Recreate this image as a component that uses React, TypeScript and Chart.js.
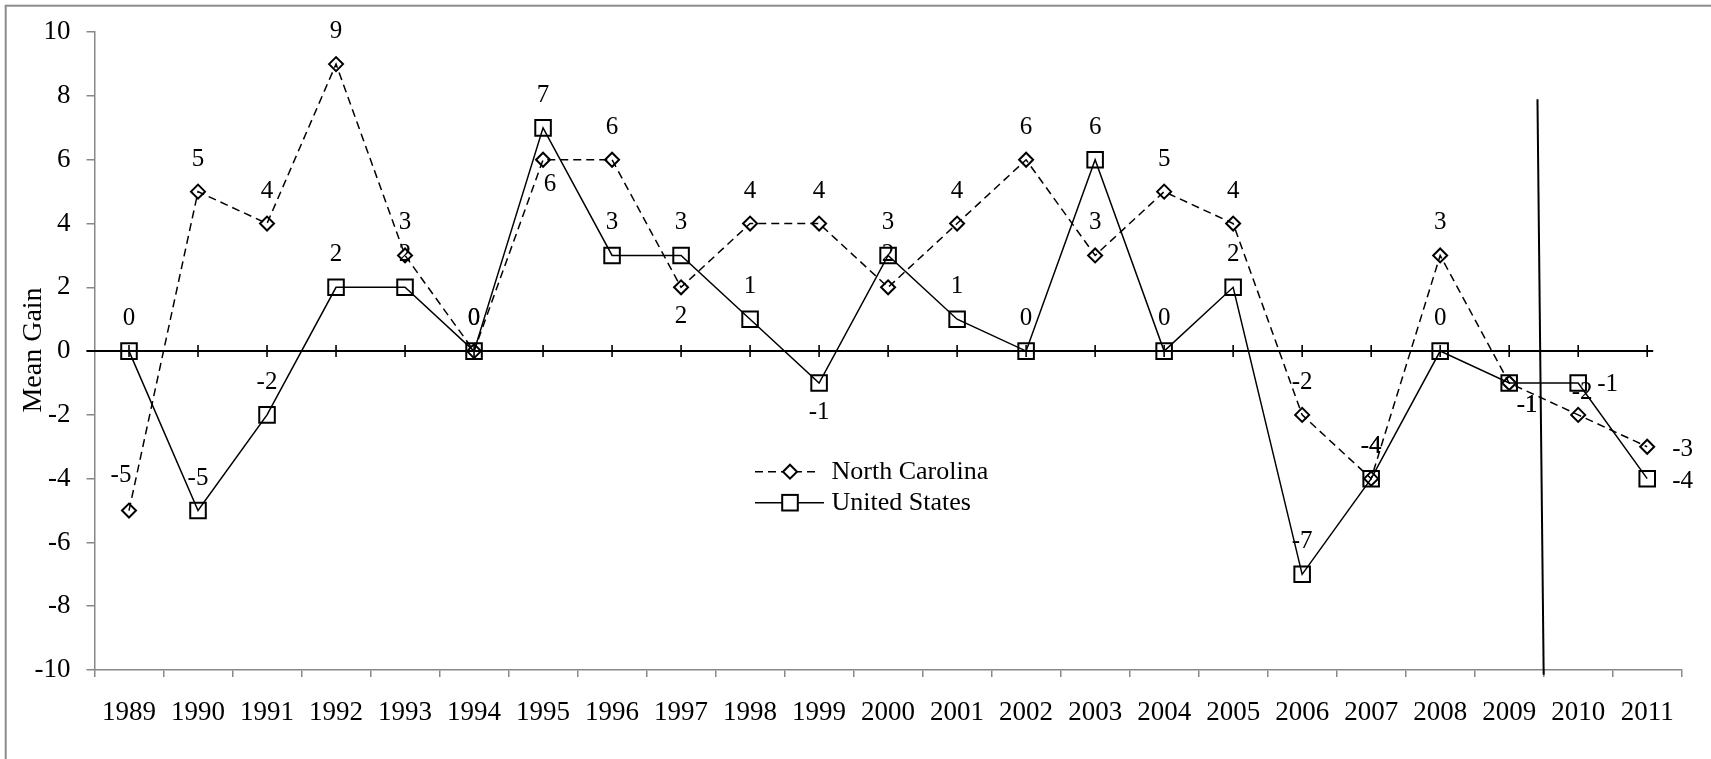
import React, { useEffect, useRef } from 'react';
import { Chart, registerables } from 'chart.js';

Chart.register(...registerables);

// ---------- data ----------
const years = ['1989', '1990', '1991', '1992', '1993', '1994', '1995', '1996', '1997', '1998', '1999', '2000',
  '2001', '2002', '2003', '2004', '2005', '2006', '2007', '2008', '2009', '2010', '2011'];
const northCarolina = [-5, 5, 4, 9, 3, 0, 6, 6, 2, 4, 4, 2, 4, 6, 3, 5, 4, -2, -4, 3, -1, -2, -3];
const unitedStates = [0, -5, -2, 2, 2, 0, 7, 3, 3, 1, -1, 3, 1, 0, 6, 0, 2, -7, -4, 0, -1, -1, -4];
const yTickValues = [-10, -8, -6, -4, -2, 0, 2, 4, 6, 8, 10];
const seriesNames = ['North Carolina', 'United States'];
const yAxisTitle = 'Mean Gain';

// label placement codes (layout only)
const ncLabelPlacement = ['al', 'a', 'a', 'a', 'a', 'a', 'bR', 'a', 'b', 'a', 'a', 'a', 'a', 'a', 'a', 'a', 'a', 'a', 'a', 'a', 'br', 'a2', 'r2'];
const usLabelPlacement = ['a', 'a', 'a', 'a', 'a', 'a', 'a', 'a', 'a', 'a', 'b', 'a', 'a', 'a', 'a', 'a', 'a', 'a', 'a', 'a', 'br', 'r', 'r2'];

// separator line (category index / value coordinates)
const separatorTop = { index: 20.41, value: 7.9 };
const separatorBottom = { index: 20.5, value: -10.15 };

const FONT = '"Liberation Serif", "Times New Roman", serif';
const AXIS_GRAY = '#888888';

const offsets: Record<string, { dx: number; dy: number; align: CanvasTextAlign }> = {
  a: { dx: 0, dy: -32.5, align: 'center' },
  al: { dx: -8, dy: -35, align: 'center' },
  a2: { dx: 4, dy: -22, align: 'center' },
  b: { dx: 0, dy: 29, align: 'center' },
  bR: { dx: 7, dy: 25, align: 'center' },
  br: { dx: 18, dy: 22, align: 'center' },
  r: { dx: 19, dy: 1, align: 'left' },
  r2: { dx: 25, dy: 3, align: 'left' },
};

const decorPlugin = {
  id: 'decor',
  beforeDraw(chart: any) {
    const ctx = chart.ctx;
    ctx.save();
    ctx.strokeStyle = '#8c8c8c';
    ctx.lineWidth = 2;
    ctx.strokeRect(5.7, 5.7, 1800, 900);
    ctx.restore();
  },
  beforeDatasetsDraw(chart: any) {
    const ctx = chart.ctx;
    const x = chart.scales.x;
    const y = chart.scales.y;
    const area = chart.chartArea;
    const y0 = y.getPixelForValue(0);
    ctx.save();
    ctx.strokeStyle = '#000';
    ctx.lineWidth = 2;
    ctx.beginPath();
    ctx.moveTo(area.left - 8, y0);
    ctx.lineTo(x.getPixelForValue(years.length - 1) + 6, y0);
    ctx.stroke();
    ctx.lineWidth = 1.6;
    for (let i = 0; i < years.length; i++) {
      const px = x.getPixelForValue(i);
      ctx.beginPath();
      ctx.moveTo(px, y0 - 6);
      ctx.lineTo(px, y0 + 6);
      ctx.stroke();
    }
    // separator
    ctx.lineWidth = 2;
    ctx.beginPath();
    ctx.moveTo(x.getPixelForValue(separatorTop.index), y.getPixelForValue(separatorTop.value));
    ctx.lineTo(x.getPixelForValue(separatorBottom.index), y.getPixelForValue(separatorBottom.value));
    ctx.stroke();
    ctx.restore();
  },
  afterDatasetsDraw(chart: any) {
    const ctx = chart.ctx;
    ctx.save();
    ctx.fillStyle = '#000';
    ctx.font = `25px ${FONT}`;
    ctx.textBaseline = 'middle';
    const placements = [ncLabelPlacement, usLabelPlacement];
    chart.data.datasets.forEach((ds: any, di: number) => {
      const meta = chart.getDatasetMeta(di);
      meta.data.forEach((pt: any, i: number) => {
        const o = offsets[placements[di][i]] || offsets.a;
        ctx.textAlign = o.align;
        ctx.fillText(String(ds.data[i]), pt.x + o.dx, pt.y + o.dy);
      });
    });

    // y-axis title
    ctx.save();
    ctx.translate(34, 350);
    ctx.rotate(-Math.PI / 2);
    ctx.font = `28px ${FONT}`;
    ctx.textAlign = 'center';
    ctx.fillText(yAxisTitle, 0, 0);
    ctx.restore();

    // legend
    const lx0 = 755;
    const mx = 790;
    const tx = 831.5;
    const rows = [471.7, 502.7];
    ctx.strokeStyle = '#000';
    // NC
    ctx.lineWidth = 1.5;
    ctx.setLineDash([8, 5]);
    ctx.beginPath();
    ctx.moveTo(lx0, rows[0]);
    ctx.lineTo(819, rows[0]);
    ctx.stroke();
    ctx.setLineDash([]);
    ctx.lineWidth = 2;
    ctx.fillStyle = '#fff';
    ctx.beginPath();
    ctx.moveTo(mx, rows[0] - 7);
    ctx.lineTo(mx + 7, rows[0]);
    ctx.lineTo(mx, rows[0] + 7);
    ctx.lineTo(mx - 7, rows[0]);
    ctx.closePath();
    ctx.fill();
    ctx.stroke();
    // US
    ctx.lineWidth = 1.5;
    ctx.beginPath();
    ctx.moveTo(lx0, rows[1]);
    ctx.lineTo(824, rows[1]);
    ctx.stroke();
    ctx.lineWidth = 2;
    ctx.fillRect(mx - 7.8, rows[1] - 7.8, 15.6, 15.6);
    ctx.strokeRect(mx - 7.8, rows[1] - 7.8, 15.6, 15.6);
    ctx.fillStyle = '#000';
    ctx.font = `26px ${FONT}`;
    ctx.textAlign = 'left';
    ctx.fillText(seriesNames[0], tx, rows[0]);
    ctx.fillText(seriesNames[1], tx, rows[1]);
    ctx.restore();
  },
};

export default function App() {
  const ref = useRef<HTMLCanvasElement | null>(null);
  useEffect(() => {
    if (!ref.current) return;
    const chart = new Chart(ref.current, {
      type: 'line',
      data: {
        labels: years,
        datasets: [
          {
            label: seriesNames[0],
            data: northCarolina,
            borderColor: '#000',
            borderWidth: 1.5,
            borderDash: [8, 5],
            tension: 0,
            pointStyle: 'rectRot',
            pointRadius: 7,
            pointBorderWidth: 2,
            pointBorderColor: '#000',
            pointBackgroundColor: 'rgba(0,0,0,0)',
            fill: false,
          },
          {
            label: seriesNames[1],
            data: unitedStates,
            borderColor: '#000',
            borderWidth: 1.5,
            tension: 0,
            pointStyle: 'rect',
            pointRadius: 11,
            pointBorderWidth: 2,
            pointBorderColor: '#000',
            pointBackgroundColor: 'rgba(0,0,0,0)',
            fill: false,
          },
        ],
      },
      options: {
        responsive: false,
        animation: false,
        devicePixelRatio: 1,
        layout: { padding: { left: 0, right: 29.3, top: 31.7, bottom: 0 } },
        plugins: { legend: { display: false }, tooltip: { enabled: false } },
        scales: {
          x: {
            type: 'category',
            offset: true,
            grid: { offset: true, drawOnChartArea: false, tickLength: 7, color: AXIS_GRAY, lineWidth: 1.5 },
            border: { color: AXIS_GRAY, width: 1.5 },
            ticks: { font: { family: FONT, size: 27 }, color: '#000', padding: 20, maxRotation: 0, autoSkip: false },
            afterFit: (s: any) => { s.height = 89; },
          },
          y: {
            min: -10,
            max: 10,
            afterBuildTicks: (s: any) => { s.ticks = yTickValues.map((v) => ({ value: v })); },
            grid: { drawOnChartArea: false, tickLength: 8, color: AXIS_GRAY, lineWidth: 1.5 },
            border: { color: AXIS_GRAY, width: 1.5 },
            ticks: { font: { family: FONT, size: 27 }, color: '#000', padding: 16 },
            afterFit: (s: any) => { s.width = 94.5; },
          },
        },
      },
      plugins: [decorPlugin],
    } as any);
    return () => chart.destroy();
  }, []);
  return (
    <div style={{ position: 'fixed', left: 0, top: 0, width: 1711, height: 759, background: '#fff' }}>
      <canvas ref={ref} width={1711} height={759} style={{ display: 'block' }} />
    </div>
  );
}
